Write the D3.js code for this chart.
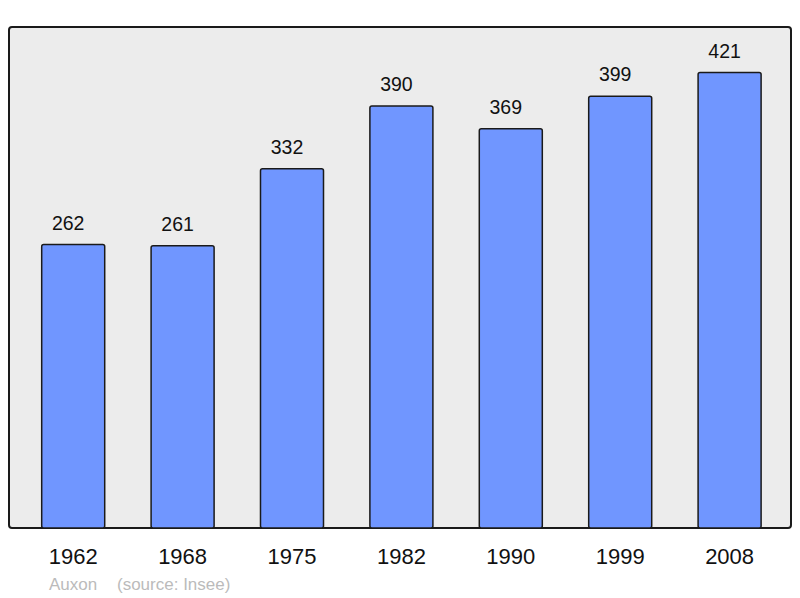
<!DOCTYPE html>
<html>
<head>
    <title>Auxon - population</title>
    <script src="https://d3js.org/d3.v7.min.js"></script>
    <style>
        body { margin: 0; background: #ffffff; }
        svg text { font-family: "Liberation Sans", Arial, sans-serif; }
    </style>
</head>
<body>
<svg id="chart" width="800" height="598"></svg>
<script>
    // données (Insee)
    const annees = ["1962", "1968", "1975", "1982", "1990", "1999", "2008"];
    const population = [262, 261, 332, 390, 369, 399, 421];
    const commune = "Auxon";
    const source = "(source: Insee)";

    const svg = d3.select("#chart");

    // cadre du graphique
    const cadre = { left: 9, top: 27, right: 791, bottom: 528 };

    svg.append("rect")
        .attr("x", cadre.left)
        .attr("y", cadre.top)
        .attr("width", cadre.right - cadre.left)
        .attr("height", cadre.bottom - cadre.top)
        .attr("rx", 3)
        .attr("fill", "#ececec")
        .attr("stroke", "#1a1a1a")
        .attr("stroke-width", 2);

    const x = d3.scaleBand()
        .domain(annees)
        .range([18.5, 784.3])
        .paddingInner(0.424)
        .paddingOuter(0.212);

    const y = d3.scaleLinear()
        .domain([0, d3.max(population) * 1.1])
        .range([cadre.bottom, cadre.top]);

    // barres
    svg.append("g")
        .selectAll("rect")
        .data(population)
        .join("rect")
        .attr("x", (d, i) => x(annees[i]))
        .attr("y", d => y(d))
        .attr("width", x.bandwidth())
        .attr("height", d => y(0) - y(d))
        .attr("rx", 2)
        .attr("fill", "#7096ff")
        .attr("stroke", "#1a1a1a")
        .attr("stroke-width", 1.5);

    // valeurs au-dessus des barres (un peu décalées à gauche, comme l'original)
    svg.append("g")
        .selectAll("text")
        .data(population)
        .join("text")
        .attr("x", (d, i) => x(annees[i]) + x.bandwidth() / 2 - 5)
        .attr("y", d => y(d) - 15)
        .attr("text-anchor", "middle")
        .attr("font-size", 19.5)
        .attr("fill", "#111")
        .text(d => d);

    // axe des années
    const axe = svg.append("g")
        .attr("transform", `translate(0,${cadre.bottom})`)
        .call(d3.axisBottom(x).tickSize(0).tickPadding(20));
    axe.select(".domain").remove();
    axe.selectAll("text")
        .attr("font-size", 22)
        .attr("font-family", "Liberation Sans, Arial, sans-serif")
        .attr("fill", "#111");

    // nom de la commune et source
    svg.append("text")
        .attr("x", 49)
        .attr("y", 590)
        .attr("font-size", 17)
        .attr("fill", "#bbbbbb")
        .text(commune);
    svg.append("text")
        .attr("x", 117)
        .attr("y", 590)
        .attr("font-size", 17)
        .attr("fill", "#bbbbbb")
        .text(source);
</script>
</body>
</html>
